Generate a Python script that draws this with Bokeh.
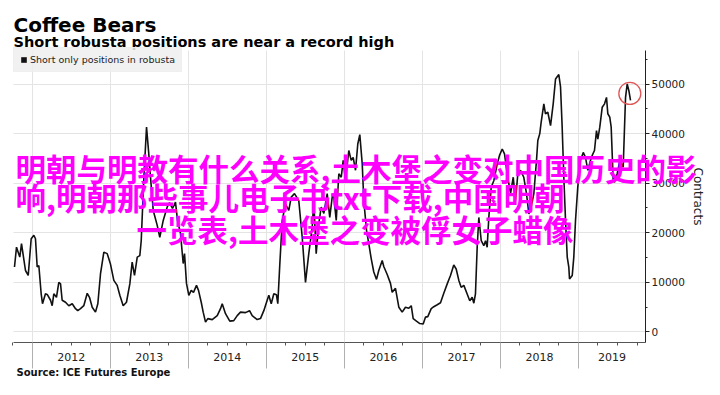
from bokeh.plotting import figure
from bokeh.models import (Range1d, FixedTicker, Label, LinearAxis,
                          Legend, LegendItem, CustomJSTickFormatter)
from bokeh.embed import file_html
from bokeh.resources import INLINE

# ---------------- data ----------------
title_text = "Coffee Bears"
subtitle_text = "Short robusta positions are near a record high"
series_name = "Short only positions in robusta"
source_text = "Source: ICE Futures Europe"
y_axis_title = "Contracts"

year_ticks = [2012, 2013, 2014, 2015, 2016, 2017, 2018, 2019]
y_ticks = [0, 10000, 20000, 30000, 40000, 50000]
y_minor_ticks = [5000, 15000, 25000, 35000, 45000, 55000]

watermark_lines = [
    "明朝与明教有什么关系,土木堡之变对中国历史的影",
    "响,明朝那些事儿电子书txt下载,中国明朝",
    "一览表,土木堡之变被俘女子蜡像",
]

# decimal year of each weekly report
dates = [
    2011.773, 2011.799, 2011.841, 2011.863, 2011.914, 2011.949, 2011.987, 2012.021, 2012.042, 2012.064,
    2012.085, 2012.115, 2012.132, 2012.170, 2012.196, 2012.235, 2012.256, 2012.277, 2012.311, 2012.341,
    2012.363, 2012.384, 2012.427, 2012.469, 2012.513, 2012.555, 2012.584, 2012.619, 2012.661, 2012.705,
    2012.734, 2012.769, 2012.811, 2012.841, 2012.875, 2012.918, 2012.961, 2013.003, 2013.046, 2013.089,
    2013.123, 2013.166, 2013.208, 2013.251, 2013.281, 2013.311, 2013.346, 2013.379, 2013.397, 2013.430,
    2013.465, 2013.494, 2013.516, 2013.551, 2013.602, 2013.635, 2013.679, 2013.730, 2013.759, 2013.798,
    2013.836, 2013.862, 2013.900, 2013.935, 2013.952, 2013.977, 2014.007, 2014.037, 2014.067, 2014.105,
    2014.131, 2014.166, 2014.191, 2014.221, 2014.250, 2014.307, 2014.371, 2014.413, 2014.435, 2014.477,
    2014.532, 2014.583, 2014.627, 2014.669, 2014.733, 2014.785, 2014.819, 2014.883, 2014.925, 2014.968,
    2015.011, 2015.032, 2015.063, 2015.096, 2015.130, 2015.147, 2015.173, 2015.204, 2015.246, 2015.288,
    2015.319, 2015.361, 2015.416, 2015.460, 2015.502, 2015.544, 2015.588, 2015.608, 2015.639, 2015.673,
    2015.703, 2015.737, 2015.780, 2015.813, 2015.844, 2015.861, 2015.896, 2015.929, 2015.960, 2015.985,
    2016.015, 2016.057, 2016.088, 2016.113, 2016.143, 2016.172, 2016.198, 2016.229, 2016.249, 2016.284,
    2016.313, 2016.344, 2016.377, 2016.412, 2016.441, 2016.485, 2016.505, 2016.549, 2016.591, 2016.613,
    2016.655, 2016.698, 2016.741, 2016.783, 2016.826, 2016.857, 2016.882, 2016.924, 2016.967, 2017.010,
    2017.040, 2017.069, 2017.113, 2017.146, 2017.190, 2017.232, 2017.274, 2017.318, 2017.360, 2017.402,
    2017.433, 2017.467, 2017.497, 2017.531, 2017.565, 2017.607, 2017.638, 2017.659, 2017.680, 2017.702,
    2017.723, 2017.754, 2017.787, 2017.809, 2017.830, 2017.851, 2017.882, 2017.915, 2017.959, 2017.988,
    2018.023, 2018.052, 2018.087, 2018.129, 2018.164, 2018.193, 2018.223, 2018.257, 2018.299, 2018.334,
    2018.364, 2018.394, 2018.428, 2018.462, 2018.479, 2018.504, 2018.522, 2018.556, 2018.577, 2018.607,
    2018.642, 2018.676, 2018.706, 2018.748, 2018.770, 2018.791, 2018.812, 2018.834, 2018.856, 2018.876,
    2018.885, 2018.920, 2018.940, 2018.962, 2018.991, 2019.026, 2019.061, 2019.090, 2019.120, 2019.154,
    2019.176, 2019.205, 2019.231, 2019.248, 2019.273, 2019.304, 2019.334, 2019.359, 2019.376, 2019.401,
    2019.419, 2019.445, 2019.462, 2019.496, 2019.531, 2019.573, 2019.590, 2019.603, 2019.624, 2019.645,
    2019.667,
]

short_positions = [
    13100, 17100, 15100, 17800, 12400, 11400, 18800, 19500, 18800, 13100,
    13400, 7700, 5700, 7700, 7500, 6400, 5300, 7700, 7000, 10000,
    9700, 6400, 6000, 5300, 5700, 4700, 4300, 4700, 5300, 7800,
    7000, 5000, 4000, 5700, 11700, 16100, 15800, 13700, 10400, 9400,
    7400, 5300, 6000, 9700, 14100, 11400, 15100, 15400, 18400, 30900,
    41300, 35900, 31200, 24500, 21500, 19100, 22500, 25200, 26100, 24900,
    26200, 22500, 19900, 13800, 15800, 9800, 7400, 8400, 8000, 9400,
    8400, 6000, 4000, 2000, 2700, 2500, 3300, 4700, 5700, 3700,
    2200, 2300, 3300, 4000, 3900, 4300, 3300, 2500, 2700, 4300,
    6400, 7400, 5700, 7700, 7500, 5700, 13700, 22500, 25800, 24500,
    27200, 27900, 26500, 19100, 10000, 15800, 21100, 26500, 15800, 21900,
    25200, 23900, 27900, 23100, 27200, 27900, 22500, 31900, 31200, 34600,
    30500, 36600, 34600, 35200, 32600, 37900, 39800, 33900, 26500, 20500,
    17800, 14800, 12100, 10600, 12400, 14400, 13200, 11600, 9800, 8000,
    8800, 5000, 4000, 5000, 4800, 5300, 2700, 2200, 1700, 1600,
    3000, 3100, 4700, 5100, 5500, 5900, 7800, 9700, 11400, 13500,
    12700, 10400, 9000, 9400, 8000, 6300, 7000, 5800, 7700, 17100,
    23100, 18400, 17400, 18400, 17100, 23100, 29200, 30500, 33900, 35600,
    36900, 35900, 31900, 27900, 31200, 26500, 31900, 32600, 31200, 27900,
    23800, 25200, 27900, 34600, 38600, 40000, 42300, 46000, 44000, 44300,
    41600, 46000, 51000, 51900, 49400, 41300, 31200, 22500, 15100, 13100,
    10700, 11400, 15100, 22500, 29200, 34600, 36200, 35200, 32600, 34600,
    35600, 36600, 40600, 38900, 41300, 45300, 46000, 47300, 44000, 43300,
    41300, 30500, 30200, 31900, 34600, 33200, 41300, 47300, 50000, 48700,
    46700,
]

highlight_date = [2019.658]
highlight_value = [48100]

# ---------------- layout constants ----------------
W, H = 704, 379
# the frame covers the whole canvas; the plotted area is bounded by the axes
VIEW_X = (2011.5938, 2020.6148)
VIEW_Y = (-9577, 66835)
AXIS_X = (2011.7604, 2019.8590)      # extent of the time axis
AXIS_Y = (-2117, 56754)              # extent of the value axis

p = figure(width=W, height=H, output_backend="svg", toolbar_location=None, title=None,
           x_range=Range1d(*VIEW_X), y_range=Range1d(*VIEW_Y),
           y_axis_location="right", min_border=0)
p.outline_line_color = None
p.background_fill_color = "white"
p.border_fill_color = "white"

# --- time axis: year separators + quarter ticks
quarters = [y + q for y in range(2011, 2020) for q in (0.25, 0.5, 0.75)]
x_ticker = FixedTicker(ticks=year_ticks, minor_ticks=quarters)
xa = p.xaxis[0]
xa.ticker = x_ticker
xa.fixed_location = AXIS_Y[0]
xa.bounds = AXIS_X
xa.formatter = CustomJSTickFormatter(code="return ''")
xa.major_tick_in = 0
xa.major_tick_out = 26
xa.major_tick_line_color = "#b0b0b0"
xa.minor_tick_in = 0
xa.minor_tick_out = 3
xa.minor_tick_line_color = "#555555"
xa.axis_line_color = "#555555"

# --- year labels, centred in each year's visible span
mid_x = [(y + min(y + 1, AXIS_X[1])) / 2 for y in year_ticks]
xb = LinearAxis(ticker=FixedTicker(ticks=mid_x, minor_ticks=[]),
                formatter=CustomJSTickFormatter(code="return String(Math.floor(tick))"),
                fixed_location=AXIS_Y[0], bounds=AXIS_X,
                axis_line_color=None, major_tick_line_color=None, minor_tick_line_color=None,
                major_tick_in=0, major_tick_out=0, major_label_standoff=11,
                major_label_text_font="DejaVu Sans", major_label_text_font_size="11px",
                major_label_text_color="#222222")
p.add_layout(xb, "below")

# --- value axis on the right
y_ticker = FixedTicker(ticks=y_ticks, minor_ticks=y_minor_ticks)
ya = p.yaxis[0]
ya.ticker = y_ticker
ya.fixed_location = AXIS_X[1]
ya.bounds = AXIS_Y
ya.major_tick_in = 0
ya.major_tick_out = 4
ya.minor_tick_in = 0
ya.minor_tick_out = 2
ya.major_tick_line_color = "#222222"
ya.minor_tick_line_color = "#222222"
ya.axis_line_color = "#222222"
ya.major_label_standoff = 2
ya.major_label_text_font = "DejaVu Sans"
ya.major_label_text_font_size = "10.5px"
ya.major_label_text_color = "#222222"
ya.axis_label = y_axis_title
ya.axis_label_text_font = "DejaVu Sans"
ya.axis_label_text_font_style = "normal"
ya.axis_label_text_font_size = "12px"
ya.axis_label_text_color = "#222222"
ya.axis_label_standoff = 3

p.xgrid.ticker = x_ticker
p.ygrid.ticker = y_ticker
p.xgrid.cross_bounds = AXIS_Y
p.ygrid.cross_bounds = AXIS_X
p.xgrid.grid_line_color = "#e4e4e4"
p.ygrid.grid_line_color = "#e4e4e4"

p.line(dates, short_positions, line_color="#111111", line_width=1.6)
p.scatter(highlight_date, highlight_value, marker="circle", size=22,
          fill_color=None, line_color="#e05555", line_width=1.3)

# legend swatch: a hidden bar renderer of the same series gives the black square
legend_square = p.vbar(x=dates, top=short_positions, width=0.01, bottom=0,
                       fill_color="#111111", line_color=None, visible=False)
legend = Legend(items=[LegendItem(label=series_name, renderers=[legend_square])],
                location=(13, 307), margin=0, padding=6, spacing=0,
                glyph_width=7, glyph_height=7, label_standoff=3, label_height=10,
                label_text_font="DejaVu Sans", label_text_font_size="9.5px",
                label_text_color="#222222",
                background_fill_color="#eeeeee", background_fill_alpha=0.85,
                border_line_color="#eeeeee", border_line_alpha=0.85, border_line_width=1,
                inactive_fill_alpha=0)
p.add_layout(legend)

# titles and source (screen units from the bottom-left corner)
p.add_layout(Label(x=13, y=355, x_units="screen", y_units="screen", text=title_text,
                   text_font="DejaVu Sans", text_font_style="bold", text_font_size="20px",
                   text_color="#000000", text_baseline="alphabetic"))
p.add_layout(Label(x=13, y=337.5, x_units="screen", y_units="screen", text=subtitle_text,
                   text_font="DejaVu Sans", text_font_style="bold", text_font_size="14.5px",
                   text_color="#000000", text_baseline="alphabetic"))
p.add_layout(Label(x=16, y=7, x_units="screen", y_units="screen", text=source_text,
                   text_font="DejaVu Sans", text_font_style="bold", text_font_size="10px",
                   text_color="#111111", text_baseline="alphabetic"))

# overlaid watermark text
for (wx, wy), line in zip([(15, 212), (15, 183), (136, 151)], watermark_lines):
    p.add_layout(Label(x=wx, y=wy, x_units="screen", y_units="screen", text=line,
                       text_font="Noto Sans CJK SC", text_font_style="bold", text_font_size="30.5px",
                       text_color="#ff00ff", text_baseline="middle", text_align="left"))

open("out.html", "w").write(file_html(p, INLINE))
